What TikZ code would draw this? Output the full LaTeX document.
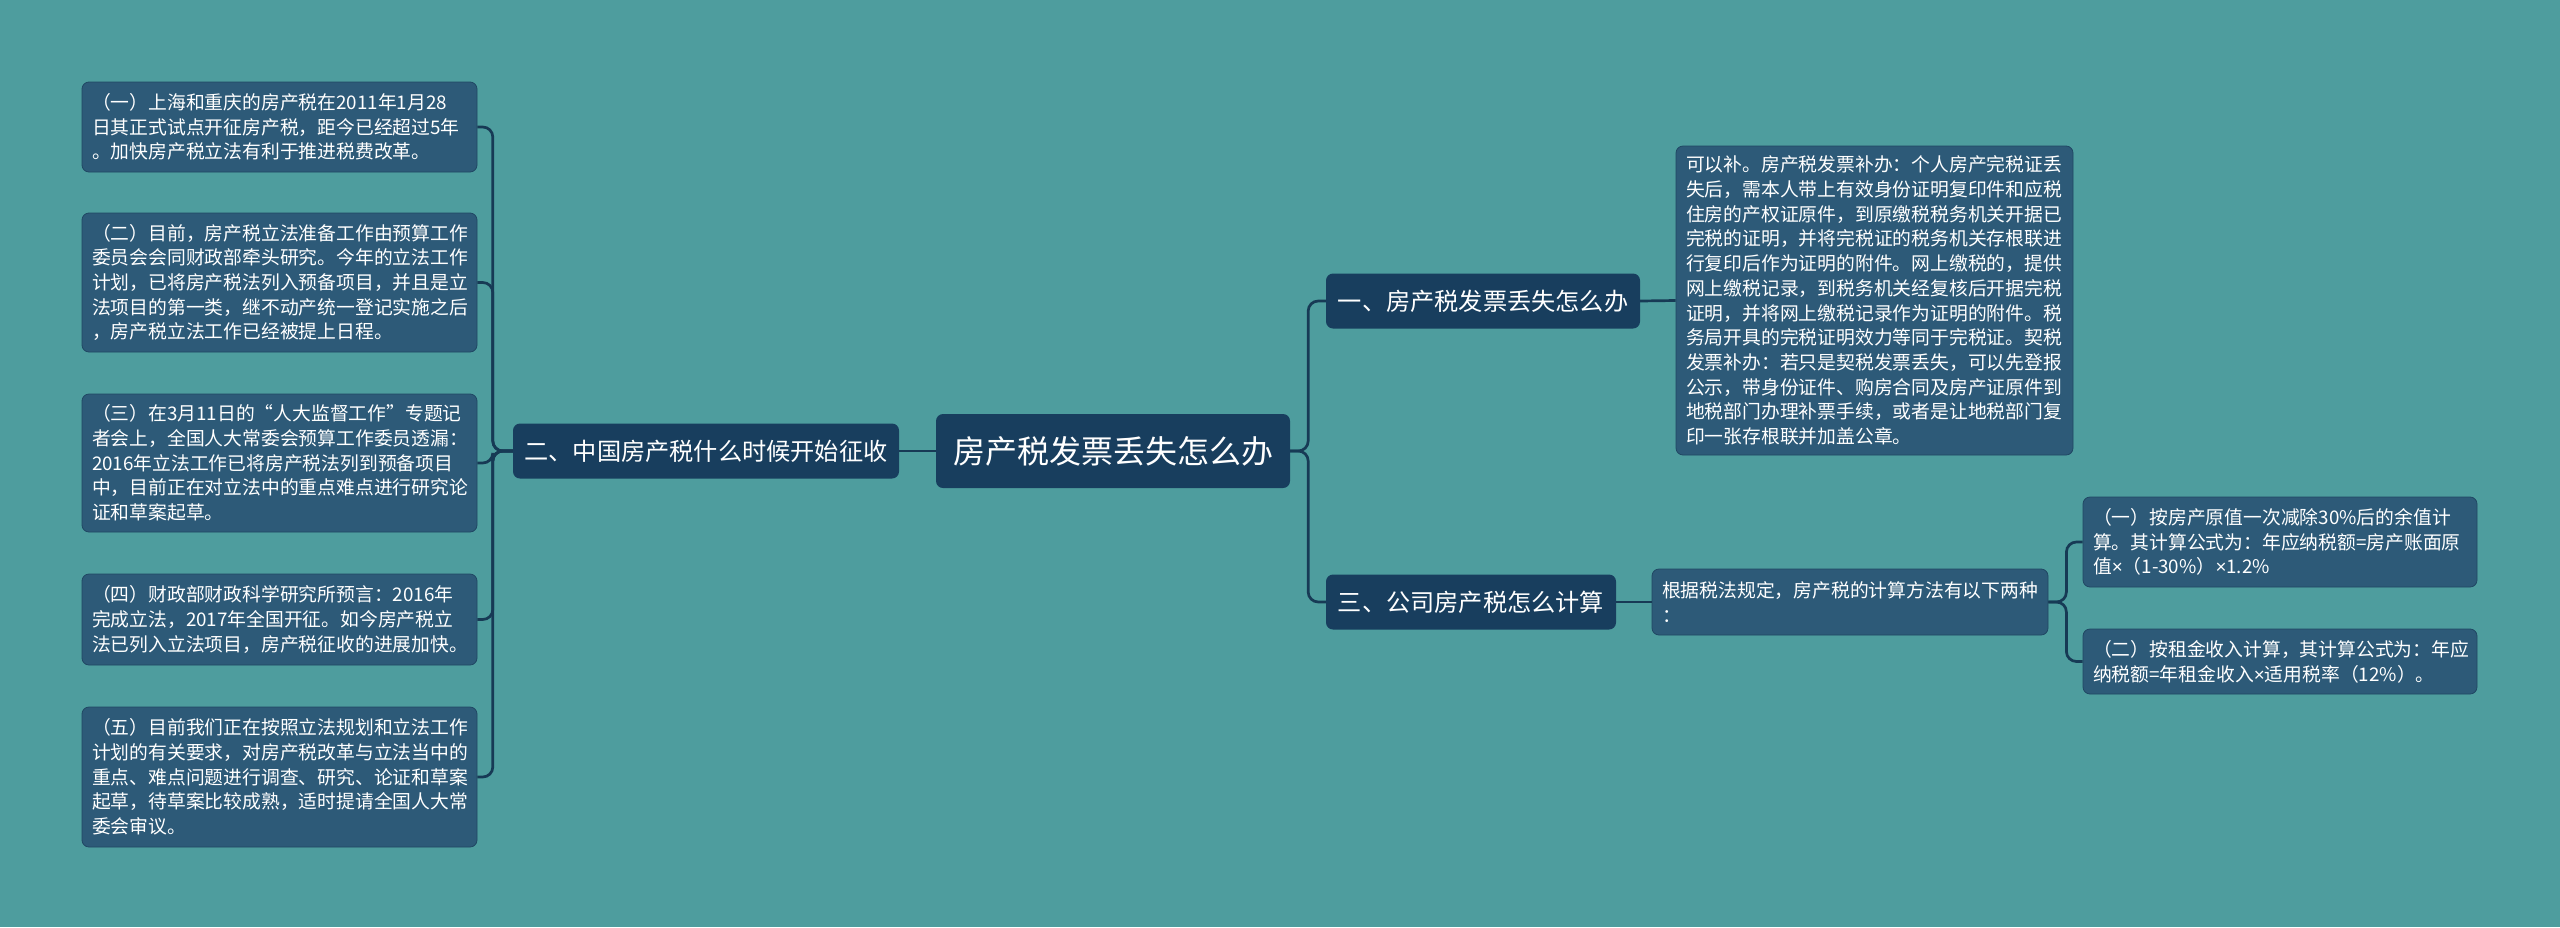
\documentclass[tikz,border=0pt]{standalone}
\usepackage{fontspec}
\setmainfont{Noto Sans CJK SC}
\newfontfamily\latinfont{Liberation Sans}
\newcommand{\tms}{{\latinfont ×}}
\definecolor{bgc}{HTML}{4E9D9E}
\definecolor{darkc}{HTML}{183E5E}
\definecolor{leafc}{HTML}{2D5A78}
\definecolor{linec}{HTML}{173A55}
\tikzset{
  box/.style={rounded corners=7pt, text=white, inner ysep=0pt, anchor=center},
  rootbox/.style={box, fill=darkc, font=\fontsize{32}{38}\selectfont, inner xsep=14pt},
  midbox/.style={box, fill=darkc, font=\fontsize{24.2}{30}\selectfont, inner xsep=10pt},
  leafbox/.style={box, fill=leafc, draw=linec!60!leafc, line width=0.8pt, font=\fontsize{18.8}{24.7}\selectfont, align=left, inner xsep=10pt},
  conn/.style={draw=linec, line width=2.7pt, rounded corners=10pt},
}
\begin{document}
\begin{tikzpicture}[x=1pt,y=-1pt]
\useasboundingbox[fill=bgc] (0,0) rectangle (2560,927);

\node[rootbox, minimum width=354pt, minimum height=74pt] (root) at (1113,451) {房产税发票丢失怎么办};
\node[midbox, minimum width=386pt, minimum height=55pt] (L2) at (706,451) {二、中国房产税什么时候开始征收};
\node[midbox, minimum width=314pt, minimum height=55pt] (L1) at (1483,301) {一、房产税发票丢失怎么办};
\node[midbox, minimum width=290pt, minimum height=55pt] (L3) at (1471,602) {三、公司房产税怎么计算};

\node[leafbox, minimum width=397pt, minimum height=309pt, text width=377pt] (A) at (1874.5,300.5) {可以补。房产税发票补办：个人房产完税证丢\\失后，需本人带上有效身份证明复印件和应税\\住房的产权证原件，到原缴税税务机关开据已\\完税的证明，并将完税证的税务机关存根联进\\行复印后作为证明的附件。网上缴税的，提供\\网上缴税记录，到税务机关经复核后开据完税\\证明，并将网上缴税记录作为证明的附件。税\\务局开具的完税证明效力等同于完税证。契税\\发票补办：若只是契税发票丢失，可以先登报\\公示，带身份证件、购房合同及房产证原件到\\地税部门办理补票手续，或者是让地税部门复\\印一张存根联并加盖公章。};

\node[leafbox, minimum width=396pt, minimum height=66pt, text width=376pt] (G) at (1850,602) {根据税法规定，房产税的计算方法有以下两种\\：};
\node[leafbox, minimum width=394pt, minimum height=90pt, text width=374pt] (R1) at (2280,542) {（一）按房产原值一次减除30\%后的余值计\\算。其计算公式为：年应纳税额=房产账面原\\值\tms{}（1-30\%）\tms{}1.2\%};
\node[leafbox, minimum width=394pt, minimum height=65pt, text width=374pt] (R2) at (2280,661.5) {（二）按租金收入计算，其计算公式为：年应\\纳税额=年租金收入\tms{}适用税率（12\%）。};

\node[leafbox, minimum width=395pt, minimum height=90pt, text width=375pt] (l1) at (279.5,127) {（一）上海和重庆的房产税在2011年1月28\\日其正式试点开征房产税，距今已经超过5年\\。加快房产税立法有利于推进税费改革。};
\node[leafbox, minimum width=395pt, minimum height=139pt, text width=375pt] (l2) at (279.5,282.5) {（二）目前，房产税立法准备工作由预算工作\\委员会会同财政部牵头研究。今年的立法工作\\计划，已将房产税法列入预备项目，并且是立\\法项目的第一类，继不动产统一登记实施之后\\，房产税立法工作已经被提上日程。};
\node[leafbox, minimum width=395pt, minimum height=138pt, text width=375pt] (l3) at (279.5,463) {（三）在3月11日的“人大监督工作”专题记\\者会上，全国人大常委会预算工作委员透漏：\\2016年立法工作已将房产税法列到预备项目\\中，目前正在对立法中的重点难点进行研究论\\证和草案起草。};
\node[leafbox, minimum width=395pt, minimum height=91pt, text width=375pt] (l4) at (279.5,619.5) {（四）财政部财政科学研究所预言：2016年\\完成立法，2017年全国开征。如今房产税立\\法已列入立法项目，房产税征收的进展加快。};
\node[leafbox, minimum width=395pt, minimum height=140pt, text width=375pt] (l5) at (279.5,777) {（五）目前我们正在按照立法规划和立法工作\\计划的有关要求，对房产税改革与立法当中的\\重点、难点问题进行调查、研究、论证和草案\\起草，待草案比较成熟，适时提请全国人大常\\委会审议。};

% connectors
\foreach \n in {l1,l2,l3,l4,l5}{
  \draw[conn] (L2.west) -- ++(-20,0) |- (\n.east);
}
\draw[conn] (root.west) -- (L2.east);
\draw[conn] (root.east) -- ++(18,0) |- (L1.west);
\draw[conn] (root.east) -- ++(18,0) |- (L3.west);
\draw[conn] (L1.east) -- (A.west);
\draw[conn] (L3.east) -- (G.west);
\draw[conn] (G.east) -- ++(18,0) |- (R1.west);
\draw[conn] (G.east) -- ++(18,0) |- (R2.west);
\end{tikzpicture}
\end{document}
